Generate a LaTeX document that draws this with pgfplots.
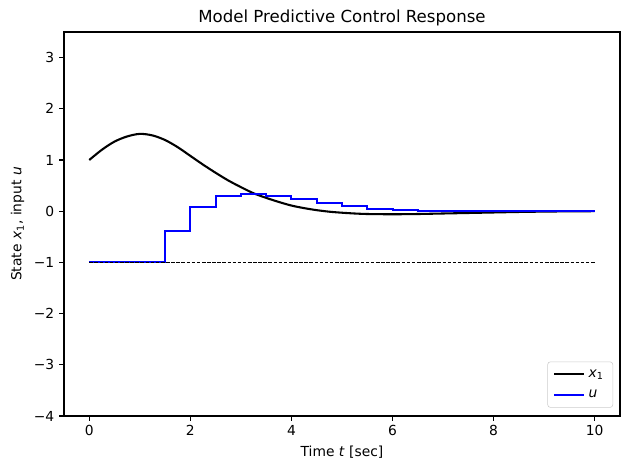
\documentclass[border=0pt]{standalone}
\usepackage{fontspec}
\setmainfont{DejaVu Sans}
\usepackage{pgfplots}
\pgfplotsset{compat=1.18}
\usetikzlibrary{calc}

\begin{document}
\begin{tikzpicture}
\fontsize{10}{12}\selectfont
\begin{axis}[
    name=ax,
    scale only axis,
    width=5.56in, height=3.84in,
    xmin=-0.5, xmax=10.5,
    ymin=-4, ymax=3.5,
    xtick={0,2,4,6,8,10},
    ytick={-4,-3,-2,-1,0,1,2,3},
    yticklabels={−4,−3,−2,−1,0,1,2,3},
    xtick pos=left, ytick pos=left,
    tick align=outside,
    major tick length=3.5pt,
    every tick/.style={black, line width=0.8pt},
    axis line style={line width=0.8pt},
    /pgf/number format/assume math mode=true,
    ticklabel style={font=\fontsize{10}{12}\selectfont},
    title={Model Predictive Control Response},
    title style={font=\fontsize{12}{14}\selectfont, yshift=-5pt},
    xlabel={Time \textit{t} [sec]},
    ylabel={State \textit{x}\textsubscript{1}, input \textit{u}},
    label style={font=\fontsize{10}{12}\selectfont},
    legend cell align=left,
    legend style={
        at={(1,0)}, anchor=south east,
        xshift=-5pt, yshift=6pt,
        draw=black!20, rounded corners=2pt,
        font=\fontsize{10}{12}\selectfont,
        row sep=3pt, inner xsep=4pt, inner ysep=3pt,
        nodes={inner sep=2.5pt}},
    legend image code/.code={\draw[#1] (0cm,0cm) -- (0.76cm,0cm);},
]
\addplot[black, line width=1.5pt, smooth] coordinates {
    (0,1.00) (0.25,1.20) (0.5,1.36) (0.75,1.46) (1.0,1.51)
    (1.25,1.48) (1.5,1.39) (1.75,1.25) (2.0,1.08) (2.25,0.91)
    (2.5,0.75) (2.75,0.60) (3.0,0.47) (3.25,0.35) (3.5,0.26)
    (3.75,0.18) (4.0,0.11) (4.25,0.06) (4.5,0.02) (4.75,-0.01)
    (5.0,-0.03) (5.25,-0.045) (5.5,-0.055) (6.0,-0.06) (6.5,-0.055)
    (7.0,-0.045) (7.5,-0.035) (8.0,-0.025) (8.5,-0.015) (9.0,-0.008)
    (9.5,-0.003) (10.0,0.0)};
\addlegendentry{\textit{x}\textsubscript{1}}
\addplot[blue, line width=1.5pt, const plot] coordinates {
    (0,-1) (1.5,-0.39) (2,0.08) (2.5,0.29) (3,0.33) (3.5,0.30)
    (4,0.235) (4.5,0.16) (5,0.10) (5.5,0.05) (6,0.02) (6.5,0.005)
    (7,0.0) (7.5,-0.002) (8,-0.003) (8.5,-0.002) (9,-0.001)
    (9.5,0.0) (10,0.0)};
\addlegendentry{\textit{u}}
\addplot[black, line width=0.7pt, dash pattern=on 2.6pt off 1.1pt, forget plot]
    coordinates {(0,-1) (10,-1)};
\end{axis}
\path ($(ax.south west)+(-0.64in,-0.54in)$) rectangle ($(ax.north east)+(0.10in,0.32in)$);
\end{tikzpicture}
\end{document}
